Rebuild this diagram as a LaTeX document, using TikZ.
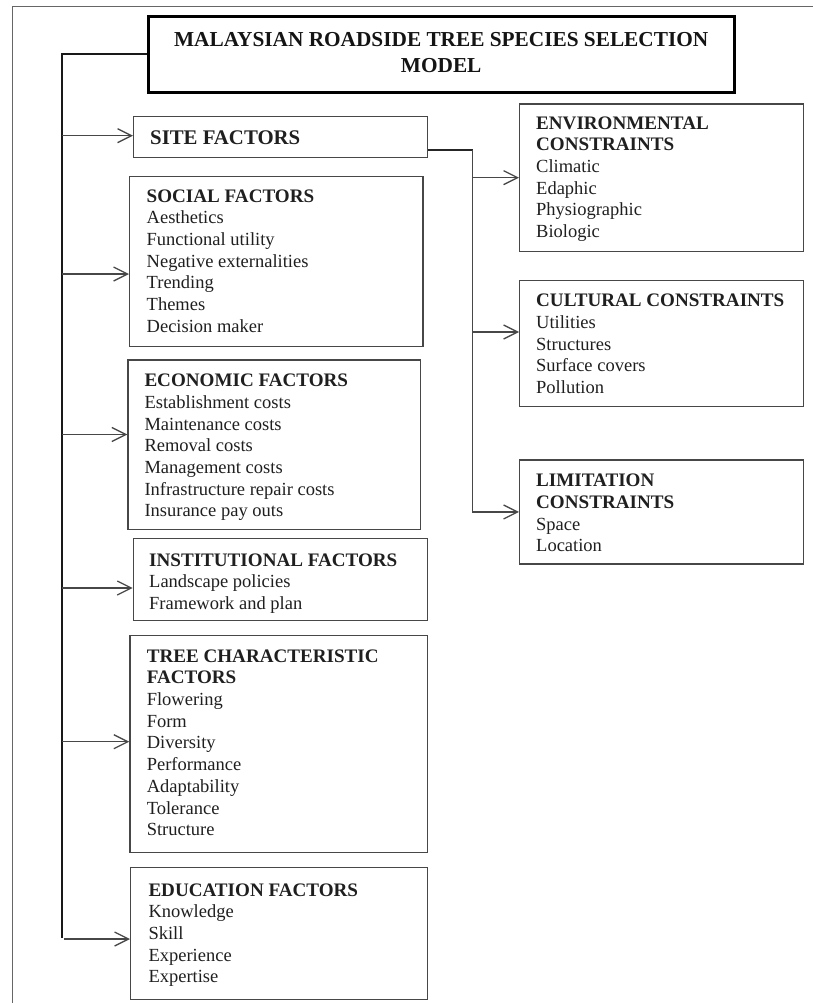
\documentclass[tikz,border=0pt]{standalone}
\usepackage{fontspec}
\setmainfont{Liberation Serif}
\usetikzlibrary{arrows.meta}
\newcommand{\hd}[1]{{\fontsize{19.1}{21.7}\selectfont\bfseries #1}}
\begin{document}
\begin{tikzpicture}[x=1pt,y=-1pt,
  box/.style={draw=black!72, line width=1.3pt, rectangle, inner sep=0pt, anchor=north west},
  titlebox/.style={draw=black, line width=3pt, rectangle, inner sep=0pt, anchor=north west},
  txt/.style={anchor=north west, inner sep=0pt, align=left, text=black!88, font=\fontsize{18.5}{21.7}\selectfont},
  arr/.style={draw=black!72, line width=1.3pt, -{Straight Barb[length=14pt,width=14pt,line width=1.3pt]}},
  trunk/.style={draw=black!90, line width=2pt},
  link/.style={draw=black!85, line width=1.3pt},
  frame/.style={draw=black!60, line width=1pt}]
\useasboundingbox (0,0) rectangle (813,1003);
% outer frame
\coordinate (fA) at (12.7,1003);
\coordinate (fB) at (12.7,6.7);
\coordinate (fC) at (813,6.7);
\draw[frame] (fA) -- (fB) -- (fC);

% boxes
\node[titlebox, minimum width=586pt, minimum height=75.7pt] (title) at (146.7,15) {};
\node[box, minimum width=293.7pt, minimum height=40.7pt] (site) at (133,116) {};
\node[box, minimum width=293.3pt, minimum height=169.7pt] (social) at (129,176) {};
\node[box, minimum width=292.7pt, minimum height=169.2pt] (econ) at (127.3,359.3) {};
\node[box, minimum width=294pt, minimum height=82.5pt] (inst) at (132.7,537.5) {};
\node[box, minimum width=297.4pt, minimum height=216.7pt] (tree) at (129.3,635) {};
\node[box, minimum width=296.7pt, minimum height=132.3pt] (edu) at (130,866.7) {};
\node[box, minimum width=283.7pt, minimum height=147pt] (env) at (519,103.5) {};
\node[box, minimum width=283.7pt, minimum height=126pt] (cult) at (519,280) {};
\node[box, minimum width=283.7pt, minimum height=104pt] (lim) at (519,459.3) {};

% texts
\node[anchor=north, inner sep=0pt, align=center, text=black!92, font=\bfseries\fontsize{21.3}{26}\selectfont] (titleT) at ([shift={(0,16.7)}]title.north) {MALAYSIAN ROADSIDE TREE SPECIES SELECTION\\MODEL};
\node[txt, font=\bfseries\fontsize{20.8}{24}\selectfont] (siteT) at ([shift={(17,14.5)}]site.north west) {SITE FACTORS};
\node[txt] (socialT) at ([shift={(17.5,13.3)}]social.north west) {\hd{SOCIAL FACTORS}\\Aesthetics\\Functional utility\\Negative externalities\\Trending\\Themes\\Decision maker};
\node[txt] (econT) at ([shift={(17,14.5)}]econ.north west) {\hd{ECONOMIC FACTORS}\\Establishment costs\\Maintenance costs\\Removal costs\\Management costs\\Infrastructure repair costs\\Insurance pay outs};
\node[txt] (instT) at ([shift={(16.3,15.8)}]inst.north west) {\hd{INSTITUTIONAL FACTORS}\\Landscape policies\\Framework and plan};
\node[txt] (treeT) at ([shift={(17.3,14.3)}]tree.north west) {\hd{TREE CHARACTERISTIC}\\\hd{FACTORS}\\Flowering\\Form\\Diversity\\Performance\\Adaptability\\Tolerance\\Structure};
\node[txt] (eduT) at ([shift={(18.3,16.5)}]edu.north west) {\hd{EDUCATION FACTORS}\\Knowledge\\Skill\\Experience\\Expertise};
\node[txt] (envT) at ([shift={(17,12.8)}]env.north west) {\hd{ENVIRONMENTAL}\\\hd{CONSTRAINTS}\\Climatic\\Edaphic\\Physiographic\\Biologic};
\node[txt] (cultT) at ([shift={(17,14)}]cult.north west) {\hd{CULTURAL CONSTRAINTS}\\Utilities\\Structures\\Surface covers\\Pollution};
\node[txt] (limT) at ([shift={(17,14.7)}]lim.north west) {\hd{LIMITATION}\\\hd{CONSTRAINTS}\\Space\\Location};

% left trunk
\coordinate (trunkBot) at (62,938);
\draw[trunk] (title.west) -| (trunkBot);
\coordinate (bSite) at (62,135.7);
\coordinate (bSocial) at (62,274);
\coordinate (bEcon) at (62,434.5);
\coordinate (bInst) at (62,588);
\coordinate (bTree) at (62,741.7);
\coordinate (bEdu) at (64,939);
\draw[arr] (bSite) -- (bSite -| site.west);
\draw[arr] (bSocial) -- (bSocial -| social.west);
\draw[arr] (bEcon) -- (bEcon -| econ.west);
\draw[arr] (bInst) -- (bInst -| inst.west);
\draw[arr] (bTree) -- (bTree -| tree.west);
\draw[arr] (bEdu) -- (bEdu -| edu.west);

% site connector
\coordinate (sJ) at (472.7,150);
\coordinate (cJ) at (472.7,332);
\draw[link, line width=2pt] (sJ -| site.east) -- (sJ);
\draw[arr] (sJ) |- (lim.west);
\draw[arr] (sJ |- env.west) -- (env.west);
\draw[arr] (cJ) -- (cJ -| cult.west);
\end{tikzpicture}
\end{document}
